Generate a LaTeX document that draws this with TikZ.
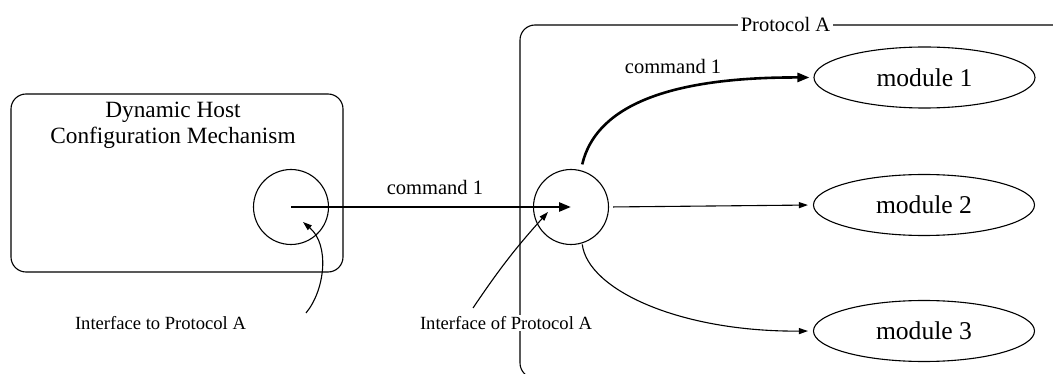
\documentclass[tikz,border=0pt]{standalone}
\usepackage{fontspec}
\setmainfont{Liberation Serif}
\usetikzlibrary{arrows.meta,shapes.geometric}
\begin{document}
\begin{tikzpicture}[x=1pt,y=-1pt,
  frame/.style={draw,line width=1.1pt,rounded corners=15pt,inner sep=0pt},
  port/.style={draw,circle,line width=1.1pt,minimum size=75pt,inner sep=0pt},
  module/.style={draw,ellipse,line width=1.1pt,minimum width=221pt,minimum height=61pt,inner sep=0pt,
    font=\fontsize{25.6}{28}\selectfont},
  lbl/.style={font=\fontsize{20.5}{24}\selectfont,inner sep=1pt},
  small/.style={font=\fontsize{18.6}{22}\selectfont,fill=white,inner xsep=2pt,inner ysep=1pt},
  thin/.style={line width=1.1pt,-{Triangle[length=9pt,width=6pt]}},
  thick/.style={line width=2.6pt,-{Triangle[length=12pt,width=9pt]}}]
\useasboundingbox (0,0) rectangle (1053,374);
\clip (0,0) rectangle (1053,374);
% frames
\node[frame,minimum width=332pt,minimum height=178pt] (dhcm) at (177,183) {};
\node[frame,minimum width=550pt,minimum height=353pt] (proto) at (795,201.5) {};
\node[font=\fontsize{20.5}{24}\selectfont,fill=white,inner xsep=3pt,inner ysep=1pt] (ptitle) at (785.5,24) {Protocol A};
\node[align=center,font=\fontsize{23.3}{26}\selectfont] (title) at (173,125) {Dynamic Host\\Configuration Mechanism};
% ports
\node[port] (lp) at (291,207) {};
\node[port] (rp) at (571,207) {};
% modules
\node[module] (m1) at (924.5,77.5) {module 1};
\node[module] (m2) at (924,205) {module 2};
\node[module] (m3) at (924,331) {module 3};
% labels
\node[lbl] (c0) at (435,187) {command 1};
\node[lbl] (c1) at (673,66) {command 1};
\node[small] (ito) at (160.5,323) {Interface to Protocol A};
\node[small] (iof) at (506,323) {Interface of Protocol A};
\coordinate (itoS) at (306,313);
\coordinate (iofS) at (473,308);
% connectors
\draw[thick] (lp.center) -- (rp.center);
\draw[thick,shorten <=6pt,shorten >=4pt] (rp.75) .. controls (595,110) and (660,77) .. (m1.west);
\draw[thin,shorten <=4pt,shorten >=5pt] (rp.east) -- (m2.west);
\draw[thin,shorten <=1pt,shorten >=5pt] (rp.-73) .. controls (588,290) and (680,332) .. (m3.west);
\draw[thin] (itoS) .. controls (325,290) and (330,245) .. (303,222);
\draw[thin] (iofS) to[bend left=4] (548,212);
\end{tikzpicture}
\end{document}
